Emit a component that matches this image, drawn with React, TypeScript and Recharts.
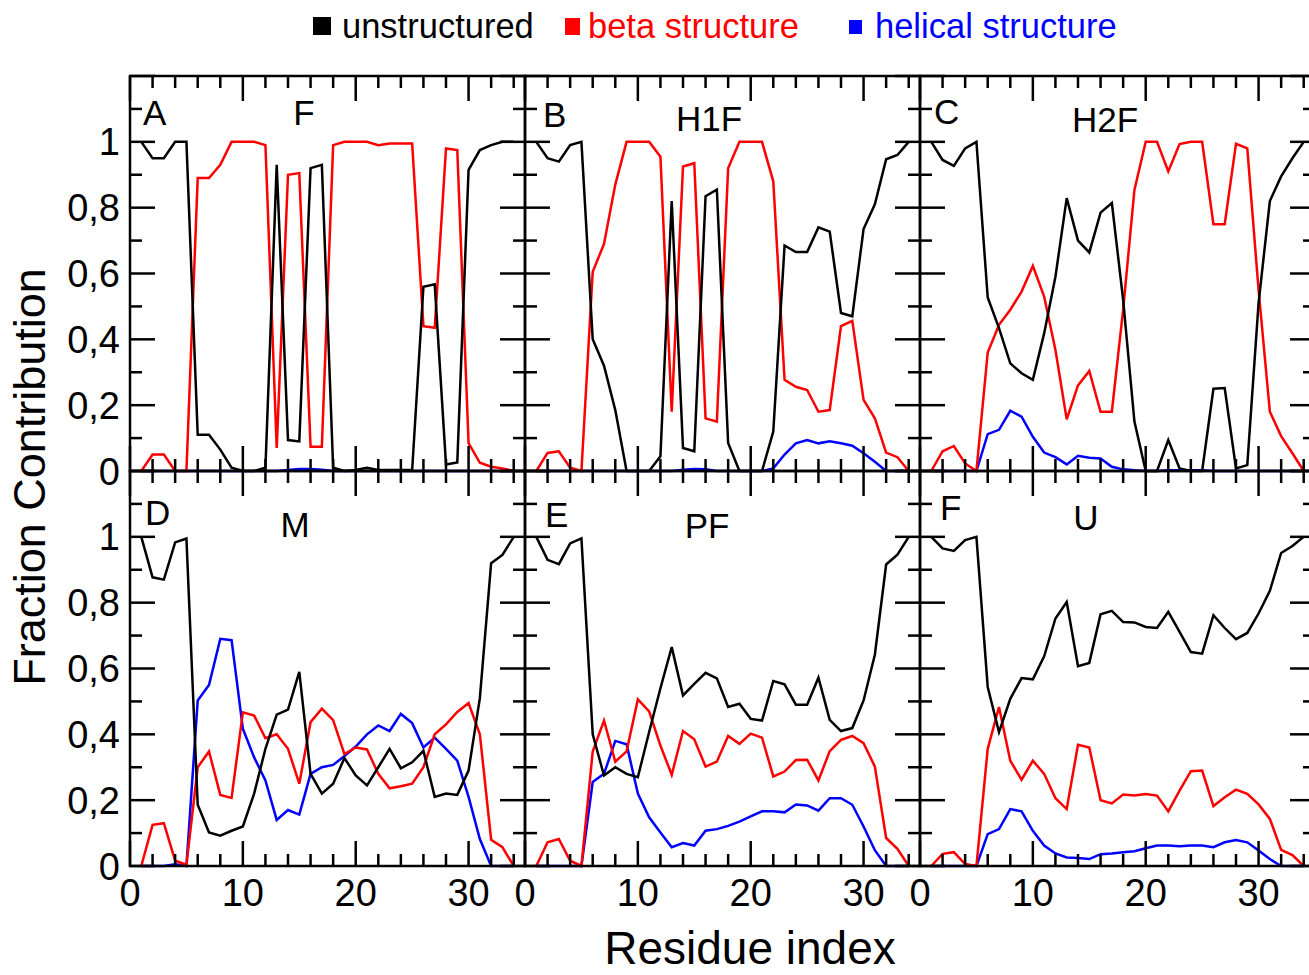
import React from 'react';
import { LineChart, Line, XAxis, YAxis } from 'recharts';

const residues = [1,2,3,4,5,6,7,8,9,10,11,12,13,14,15,16,17,18,19,20,21,22,23,24,25,26,27,28,29,30,31,32,33,34];

const unsF = [1.0,0.95,0.95,1.0,1.0,0.11,0.11,0.065,0.01,0,0,0.01,0.93,0.094,0.09,0.92,0.93,0.01,0,0.003,0.01,0.003,0.003,0.003,0.003,0.56,0.567,0.02,0.026,0.915,0.975,0.99,1.0,1.0];
const betaF = [0,0.05,0.05,0,0,0.89,0.89,0.93,1,1,1,0.99,0.07,0.9,0.905,0.074,0.074,0.99,1,1,1,0.99,0.995,0.995,0.995,0.44,0.435,0.98,0.975,0.085,0.025,0.013,0.008,0];
const helF = [0,0,0,0,0,0,0,0,0,0,0,0,0,0.003,0.006,0.006,0.004,0,0,0,0,0,0,0,0,0,0,0,0,0,0,0,0,0];

const unsH1F = [1.0,0.95,0.94,0.99,1.0,0.40,0.32,0.185,0,0,0,0.045,0.82,0.07,0.06,0.835,0.855,0.085,0,0,0,0.12,0.685,0.665,0.665,0.74,0.727,0.48,0.47,0.735,0.81,0.947,0.96,1.0];
const betaH1F = [0,0.055,0.06,0.01,0,0.605,0.69,0.87,1,1,1,0.955,0.18,0.925,0.935,0.16,0.15,0.92,1,1,1,0.88,0.277,0.256,0.246,0.18,0.185,0.44,0.456,0.216,0.16,0.056,0.042,0];
const helH1F = [0,0,0,0,0,0,0,0,0,0,0,0,0,0.004,0.006,0.005,0,0,0,0,0,0.008,0.05,0.084,0.094,0.084,0.09,0.084,0.077,0.054,0.028,0,0,0];

const unsH2F = [1.0,0.945,0.927,0.98,1.0,0.527,0.434,0.327,0.297,0.277,0.418,0.59,0.829,0.70,0.664,0.785,0.814,0.52,0.15,0,0,0.094,0.008,0,0,0.25,0.252,0.008,0.018,0.51,0.82,0.895,0.95,1.0];
const betaH2F = [0,0.06,0.076,0.023,0,0.36,0.444,0.49,0.545,0.623,0.53,0.368,0.157,0.26,0.304,0.18,0.18,0.49,0.854,1.0,1.0,0.91,0.993,1.0,1.0,0.75,0.75,0.994,0.98,0.55,0.18,0.106,0.054,0];
const helH2F = [0,0,0,0,0,0.112,0.125,0.183,0.165,0.104,0.056,0.042,0.02,0.046,0.04,0.038,0.013,0.005,0.002,0,0,0.002,0.002,0.002,0.002,0,0,0,0,0,0,0,0,0];

const unsM = [1.0,0.877,0.87,0.983,0.995,0.186,0.102,0.092,0.107,0.12,0.22,0.356,0.46,0.475,0.59,0.28,0.22,0.25,0.328,0.275,0.245,0.30,0.356,0.297,0.315,0.35,0.21,0.22,0.216,0.29,0.51,0.92,0.945,1.0];
const betaM = [0,0.125,0.13,0.016,0.004,0.30,0.348,0.216,0.207,0.467,0.457,0.388,0.40,0.356,0.25,0.437,0.478,0.443,0.34,0.36,0.354,0.28,0.236,0.242,0.25,0.30,0.40,0.43,0.468,0.495,0.40,0.08,0.057,0];
const helM = [0,0,0,0.005,0,0.503,0.55,0.69,0.686,0.417,0.33,0.26,0.14,0.17,0.156,0.28,0.30,0.307,0.334,0.363,0.40,0.427,0.41,0.462,0.434,0.36,0.39,0.356,0.32,0.21,0.082,0,0,0];

const unsPF = [1.0,0.93,0.917,0.98,0.995,0.40,0.275,0.30,0.28,0.27,0.407,0.54,0.665,0.518,0.553,0.587,0.57,0.483,0.493,0.447,0.442,0.562,0.552,0.49,0.49,0.572,0.444,0.41,0.419,0.503,0.642,0.916,0.946,1.0];
const betaPF = [0,0.072,0.082,0.016,0,0.348,0.442,0.317,0.348,0.506,0.47,0.366,0.277,0.41,0.385,0.302,0.317,0.395,0.371,0.402,0.39,0.272,0.287,0.322,0.323,0.26,0.349,0.383,0.395,0.373,0.302,0.085,0.052,0];
const helPF = [0,0,0,0,0,0.255,0.28,0.38,0.37,0.22,0.148,0.102,0.057,0.07,0.062,0.107,0.112,0.122,0.135,0.151,0.166,0.166,0.163,0.187,0.184,0.168,0.206,0.206,0.186,0.12,0.048,0,0,0];

const unsU = [1.0,0.965,0.957,0.99,1.0,0.544,0.407,0.508,0.571,0.567,0.637,0.752,0.802,0.607,0.617,0.765,0.775,0.741,0.74,0.726,0.723,0.772,0.711,0.65,0.645,0.762,0.723,0.689,0.708,0.767,0.836,0.951,0.972,1.0];
const betaU = [0,0.037,0.042,0.006,0,0.356,0.483,0.32,0.262,0.32,0.28,0.206,0.173,0.368,0.36,0.20,0.19,0.217,0.214,0.219,0.214,0.166,0.229,0.288,0.29,0.182,0.209,0.232,0.219,0.187,0.143,0.049,0.033,0];
const helU = [0,0,0,0,0,0.097,0.112,0.173,0.166,0.107,0.062,0.038,0.026,0.024,0.021,0.036,0.038,0.042,0.045,0.054,0.062,0.062,0.06,0.062,0.062,0.057,0.072,0.079,0.072,0.047,0.021,0,0,0];

const xTicks = [0,2,4,6,8,10,12,14,16,18,20,22,24,26,28,30,32,34];
const yTicks = [0,0.1,0.2,0.3,0.4,0.5,0.6,0.7,0.8,0.9,1.0,1.1,1.2];

const FONT = 'Liberation Sans, Arial, Helvetica, sans-serif';
const SW = 2.5;
const CW = 1320;
const CH = 975;
const PW = 395;
const PH = 395;
const colLeft = [130, 525, 920];
const rowTop = [76, 471];

const panels = [
  { letter: 'A', title: 'F', u: unsF, b: betaF, h: helF, col: 0, row: 0, lx: 143, ly: 125, tx: 304, ty: 125 },
  { letter: 'B', title: 'H1F', u: unsH1F, b: betaH1F, h: helH1F, col: 1, row: 0, lx: 543, ly: 127, tx: 709, ty: 131 },
  { letter: 'C', title: 'H2F', u: unsH2F, b: betaH2F, h: helH2F, col: 2, row: 0, lx: 934, ly: 124, tx: 1105, ty: 132 },
  { letter: 'D', title: 'M', u: unsM, b: betaM, h: helM, col: 0, row: 1, lx: 145, ly: 525, tx: 295, ty: 537 },
  { letter: 'E', title: 'PF', u: unsPF, b: betaPF, h: helPF, col: 1, row: 1, lx: 545, ly: 527, tx: 707, ty: 538 },
  { letter: 'F', title: 'U', u: unsU, b: betaU, h: helU, col: 2, row: 1, lx: 940, ly: 520, tx: 1086, ty: 530 },
];

function XTick(props: any) {
  const { x, y, payload, showLabel } = props;
  const v = payload.value;
  const major = v % 10 === 0;
  const len = major ? 25 : 12;
  return (
    <g>
      <line x1={x} y1={y} x2={x} y2={y - len} stroke="#000" strokeWidth={SW} />
      <line x1={x} y1={y - PH} x2={x} y2={y - PH + len} stroke="#000" strokeWidth={SW} />
      {showLabel && major ? (
        <text x={x} y={y + 40} textAnchor="middle" fontSize={38} fontFamily={FONT} fill="#000">{v}</text>
      ) : null}
    </g>
  );
}

function fmtY(v: number) {
  if (v === 0) return '0';
  if (v === 1) return '1';
  return String(v).replace('.', ',');
}

function YTick(props: any) {
  const { x, y, payload, showLabel } = props;
  const v = payload.value;
  const k = Math.round(v * 10);
  const major = k % 2 === 0;
  const len = major ? 25 : 12;
  return (
    <g>
      <line x1={x} y1={y} x2={x + len} y2={y} stroke="#000" strokeWidth={SW} />
      <line x1={x + PW} y1={y} x2={x + PW - len} y2={y} stroke="#000" strokeWidth={SW} />
      {showLabel && major && k <= 10 ? (
        <text x={x - 10} y={y + 13.5} textAnchor="end" fontSize={38} fontFamily={FONT} fill="#000">{fmtY(v)}</text>
      ) : null}
    </g>
  );
}

function Panel(p: any) {
  const left = colLeft[p.col];
  const top = rowTop[p.row];
  const data = residues.map((r, i) => ({ x: r, u: p.u[i], b: p.b[i], h: p.h[i] }));
  const showX = p.row === 1;
  const showY = p.col === 0;
  return (
    <div style={{ position: 'absolute', left: 0, top: 0 }}>
      <LineChart
        width={CW}
        height={CH}
        data={data}
        margin={{ left: left - 1, top: top, right: CW - left - PW, bottom: CH - top - PH - 1 }}
      >
        <XAxis
          dataKey="x"
          type="number"
          domain={[0, 35]}
          ticks={xTicks}
          interval={0}
          tickSize={0}
          tickMargin={0}
          height={1}
          axisLine={false}
          tickLine={false}
          tick={(tp: any) => <XTick {...tp} showLabel={showX} />}
        />
        <YAxis
          type="number"
          domain={[0, 1.2]}
          ticks={yTicks}
          interval={0}
          tickSize={0}
          tickMargin={0}
          width={1}
          axisLine={false}
          tickLine={false}
          tick={(tp: any) => <YTick {...tp} showLabel={showY} />}
        />
        <Line type="linear" dataKey="h" stroke="#0000ff" strokeWidth={SW} dot={false} isAnimationActive={false} />
        <Line type="linear" dataKey="b" stroke="#ff0000" strokeWidth={SW} dot={false} isAnimationActive={false} />
        <Line type="linear" dataKey="u" stroke="#000000" strokeWidth={SW} dot={false} isAnimationActive={false} />
      </LineChart>
    </div>
  );
}

export default function App() {
  return (
    <div style={{ position: 'absolute', left: 0, top: 0, width: 1309, height: 975, overflow: 'hidden', background: '#fff' }}>
      {panels.map((p) => <Panel key={p.letter + p.title} {...p} />)}
      <svg width={1320} height={975} style={{ position: 'absolute', left: 0, top: 0, pointerEvents: 'none' }}>
        {panels.map((p) => (
          <rect key={'fr' + p.letter + p.title} x={colLeft[p.col]} y={rowTop[p.row]} width={PW} height={PH} fill="none" stroke="#000" strokeWidth={SW} />
        ))}
        {panels.map((p) => (
          <g key={'lab' + p.letter + p.title} fontFamily={FONT} fontSize={35} fill="#000">
            <text x={p.lx} y={p.ly}>{p.letter}</text>
            <text x={p.tx} y={p.ty} textAnchor="middle">{p.title}</text>
          </g>
        ))}
        <text x={0} y={0} transform="translate(45,477) rotate(-90)" textAnchor="middle" fontSize={45} fontFamily={FONT} fill="#000">Fraction Contribution</text>
        <text x={750} y={964} textAnchor="middle" fontSize={46} fontFamily={FONT} fill="#000">Residue index</text>
        <rect x={313} y={17} width={18} height={18} fill="#000" />
        <text x={342} y={38} fontSize={34.5} fontFamily={FONT} fill="#000">unstructured</text>
        <rect x={565} y={18} width={15} height={17} fill="#ff0000" />
        <text x={588} y={38} fontSize={34.5} fontFamily={FONT} fill="#ff0000">beta structure</text>
        <rect x={849} y={20} width={13} height={14} fill="#0000ff" />
        <text x={875} y={38} fontSize={34.5} fontFamily={FONT} fill="#0000ff">helical structure</text>
      </svg>
    </div>
  );
}
